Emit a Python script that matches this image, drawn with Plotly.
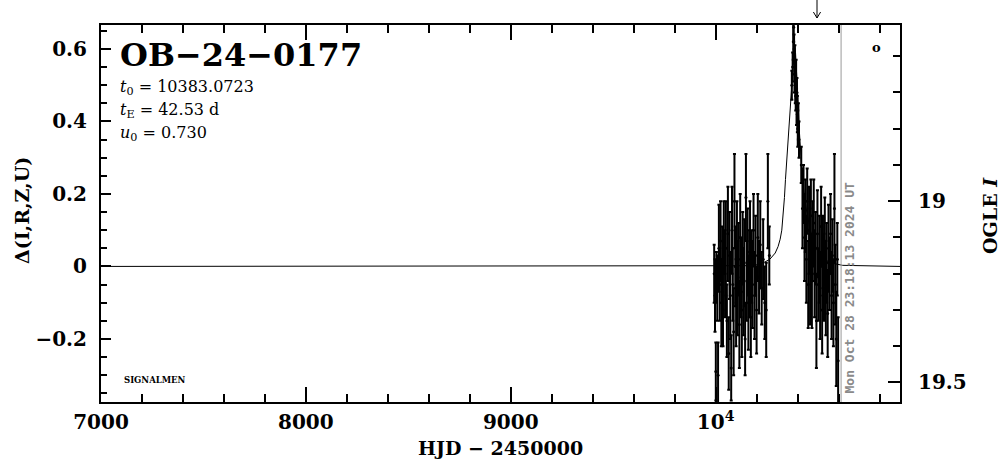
import plotly.graph_objects as go

# ---------------- data ----------------
x_range = [7000, 10900]
y_range = [-0.374, 0.666]
mag_range = [19.554, 18.514]   # OGLE I, inverted (bottom, top)

x_tickvals = [7000, 8000, 9000, 10000]
x_ticktext = ["7000", "8000", "9000", "10<sup>4</sup>"]

# model curve
model_t = [7000, 10150, 10200, 10240, 10265, 10291, 10305, 10315, 10323, 10330, 10336,
           10341, 10348, 10354, 10360, 10367, 10374, 10380, 10385, 10390, 10396, 10402,
           10408, 10415, 10423, 10432, 10445, 10462, 10480, 10500, 10525, 10560, 10620, 10900]
model_d = [0.0, 0.002, 0.005, 0.012, 0.02, 0.037, 0.055, 0.075, 0.10, 0.14, 0.19,
           0.24, 0.30, 0.35, 0.40, 0.47, 0.54, 0.59, 0.61, 0.59, 0.54, 0.46,
           0.38, 0.31, 0.25, 0.20, 0.15, 0.10, 0.065, 0.04, 0.022, 0.01, 0.003, 0.0]

# observations, season before the peak
pre_t = [9993, 9997, 10001, 10004, 10008, 10012, 10016, 10020, 10024, 10028, 10032, 10036,
         10040, 10046, 10050, 10055, 10060, 10064, 10068, 10072, 10076, 10080, 10084, 10088,
         10092, 10096, 10100, 10104, 10108, 10112, 10116, 10120, 10124, 10128, 10132, 10136,
         10140, 10144, 10148, 10152, 10156, 10160, 10164, 10168, 10172, 10176, 10180, 10185,
         10190, 10195, 10200, 10206, 10212, 10218, 10225, 10232, 10240, 10247, 10255, 10262]
pre_d = [-0.02, -0.08, -0.29, -0.03, -0.06, -0.30, 0.05, -0.05, 0.07, -0.10, 0.02, -0.12,
         0.08, -0.02, 0.05, -0.15, 0.09, -0.24, 0.03, -0.08, -0.28, 0.10, -0.05, -0.18,
         0.18, 0.00, -0.10, 0.06, -0.06, 0.02, -0.16, 0.08, -0.03, -0.12, 0.05, -0.07,
         0.01, -0.20, 0.19, -0.04, 0.04, -0.10, -0.02, 0.07, -0.14, 0.00, -0.05, 0.10,
         -0.08, 0.03, -0.12, 0.08, -0.03, 0.06, -0.06, 0.02, -0.10, -0.12, 0.18, 0.03]
pre_e = [0.08, 0.10, 0.08, 0.07, 0.09, 0.09, 0.12, 0.10, 0.11, 0.12, 0.09, 0.10,
         0.10, 0.12, 0.13, 0.10, 0.13, 0.10, 0.12, 0.12, 0.09, 0.12, 0.10, 0.12,
         0.13, 0.11, 0.12, 0.12, 0.13, 0.10, 0.12, 0.12, 0.11, 0.13, 0.10, 0.12,
         0.12, 0.10, 0.12, 0.11, 0.12, 0.13, 0.12, 0.11, 0.11, 0.10, 0.12, 0.10,
         0.12, 0.11, 0.12, 0.12, 0.10, 0.12, 0.10, 0.11, 0.10, 0.13, 0.13, 0.08]

# observations around the peak
peak_t = [10372, 10376, 10379, 10381, 10383, 10385, 10387, 10389, 10391, 10393, 10395,
          10397, 10399, 10401, 10404, 10407]
peak_d = [0.50, 0.55, 0.62, 0.66, 0.60, 0.53, 0.57, 0.50, 0.47, 0.52, 0.44,
          0.48, 0.42, 0.38, 0.40, 0.35]
peak_e = [0.04, 0.04, 0.05, 0.04, 0.04, 0.05, 0.04, 0.05, 0.04, 0.05, 0.05,
          0.04, 0.05, 0.05, 0.05, 0.05]

# observations after the peak
post_t = [10418, 10424, 10429, 10434, 10438, 10443, 10447, 10452, 10456, 10461, 10465, 10470,
          10474, 10479, 10483, 10488, 10492, 10497, 10501, 10506, 10510, 10515, 10520, 10524,
          10529, 10533, 10538, 10542, 10547, 10551, 10556, 10561, 10566, 10570, 10575, 10580,
          10584, 10589, 10594, 10598]
post_d = [0.28, 0.16, 0.20, 0.08, 0.14, 0.02, 0.18, -0.05, 0.10, 0.00, 0.14, -0.04,
          0.07, 0.12, -0.02, 0.05, -0.15, 0.09, -0.05, 0.02, -0.08, 0.11, -0.12, 0.04,
          -0.03, 0.07, -0.06, 0.01, -0.13, 0.05, -0.02, 0.09, -0.08, 0.03, -0.10, 0.16,
          -0.05, -0.20, 0.02, -0.26]
post_e = [0.05, 0.11, 0.08, 0.12, 0.10, 0.12, 0.09, 0.12, 0.12, 0.16, 0.10, 0.13,
          0.11, 0.12, 0.12, 0.10, 0.13, 0.12, 0.10, 0.12, 0.12, 0.11, 0.12, 0.10,
          0.12, 0.12, 0.13, 0.11, 0.12, 0.12, 0.10, 0.11, 0.12, 0.10, 0.12, 0.15,
          0.11, 0.13, 0.10, 0.12]

now_hjd = 10612.47
now_label = "Mon Oct 28 23:18:13 2024 UT"
event_name = "OB\u221224\u22120177"
params = ["<i>t</i><sub>0</sub> = 10383.0723",
          "<i>t</i><sub>E</sub> = 42.53 d",
          "<i>u</i><sub>0</sub> = 0.730"]

# ---------------- figure ----------------
SERIF = "DejaVu Serif"
fig = go.Figure()

fig.add_trace(go.Scatter(x=model_t, y=model_d, mode="lines",
                         line=dict(color="black", width=1), hoverinfo="skip",
                         showlegend=False))

obs_t = pre_t + peak_t + post_t
obs_d = pre_d + peak_d + post_d
obs_e = pre_e + peak_e + post_e
fig.add_trace(go.Scatter(x=obs_t, y=obs_d, mode="markers",
                         marker=dict(color="black", size=3),
                         error_y=dict(type="data", array=obs_e, color="black",
                                      thickness=2, width=1.5),
                         showlegend=False, hoverinfo="skip"))

# invisible trace to activate the right-hand magnitude axis
fig.add_trace(go.Scatter(x=[x_range[0]], y=[19.0], yaxis="y2", mode="markers",
                         marker=dict(opacity=0), showlegend=False, hoverinfo="skip"))

fig.add_vline(x=now_hjd, line=dict(color="#999999", width=1))

tickfont = dict(family=SERIF, size=20, color="black", weight="bold")

fig.update_layout(
    width=1004, height=459,
    margin=dict(l=101, r=104, t=25, b=57),
    paper_bgcolor="white", plot_bgcolor="white",
    showlegend=False,
    xaxis=dict(range=x_range, tickmode="array", tickvals=x_tickvals, ticktext=x_ticktext,
               ticks="inside", ticklen=15, tickwidth=2, tickcolor="black",
               minor=dict(tickmode="linear", tick0=0, dtick=200, ticks="inside",
                          ticklen=8, tickwidth=2, tickcolor="black"),
               showline=True, linecolor="black", linewidth=2, mirror="ticks",
               showgrid=False, zeroline=False, tickfont=tickfont,
               ticklabelstandoff=1),
    yaxis=dict(range=y_range, tickmode="linear", tick0=0, dtick=0.2,
               ticks="inside", ticklen=10, tickwidth=2, tickcolor="black",
               minor=dict(tickmode="linear", tick0=0, dtick=0.05, ticks="inside",
                          ticklen=6, tickwidth=2, tickcolor="black"),
               showline=True, linecolor="black", linewidth=2, mirror=False,
               showgrid=False, zeroline=False, tickfont=tickfont,
               ticklabelstandoff=8),
    yaxis2=dict(range=mag_range, overlaying="y", side="right",
                tickmode="linear", tick0=0, dtick=0.5,
                ticks="inside", ticklen=12, tickwidth=2, tickcolor="black",
                minor=dict(tickmode="linear", tick0=0, dtick=0.1, ticks="inside",
                           ticklen=7, tickwidth=2, tickcolor="black"),
                showline=True, linecolor="black", linewidth=2,
                showgrid=False, zeroline=False, tickfont=tickfont,
                ticklabelstandoff=12),
)

ann = []
ann.append(dict(text=event_name, xref="paper", yref="paper", x=0.0213, y=0.920,
                xanchor="left", yanchor="middle", showarrow=False,
                font=dict(family=SERIF, size=32, color="black", weight="bold")))
for i, p in enumerate(params):
    ann.append(dict(text=p, xref="paper", yref="paper", x=0.0213, y=0.8355 - 0.061 * i,
                    xanchor="left", yanchor="middle", showarrow=False,
                    font=dict(family=SERIF, size=16, color="black")))
ann.append(dict(text="SIGNALMEN", xref="paper", yref="paper", x=0.026, y=0.0584,
                xanchor="left", yanchor="middle", showarrow=False,
                font=dict(family=SERIF, size=8.5, color="black", weight="bold")))
ann.append(dict(text=now_label, xref="paper", yref="paper", x=0.938, y=0.3024,
                xanchor="center", yanchor="middle", showarrow=False, textangle=-90,
                font=dict(family="DejaVu Sans Mono", size=13, color="#8a8a8a",
                          weight="bold")))
ann.append(dict(text="o", xref="paper", yref="paper", x=0.971, y=0.9416,
                xanchor="center", yanchor="middle", showarrow=False,
                font=dict(family=SERIF, size=13, color="black", weight="bold")))
ann.append(dict(text="HJD \u2212 2450000", xref="paper", yref="paper", x=0.5006, y=-0.122,
                xanchor="center", yanchor="middle", showarrow=False,
                font=dict(family=SERIF, size=19, color="black", weight="bold")))
ann.append(dict(text="\u0394(I,R,Z,U)", xref="paper", yref="paper", x=-0.0989, y=0.509,
                xanchor="center", yanchor="middle", showarrow=False, textangle=-90,
                font=dict(family=SERIF, size=19, color="black", weight="bold")))
ann.append(dict(text="OGLE <i>I</i>", xref="paper", yref="paper", x=1.1126, y=0.496,
                xanchor="center", yanchor="middle", showarrow=False, textangle=-90,
                font=dict(family=SERIF, size=19, color="black", weight="bold")))
fig.update_layout(annotations=ann)

# arrow above the frame
ax_p = (817 - 101) / 799
fig.add_shape(type="line", xref="paper", yref="paper", x0=ax_p, x1=ax_p,
              y0=(402 - 0) / 377, y1=(402 - 18) / 377, line=dict(color="black", width=1))
fig.add_shape(type="path", xref="paper", yref="paper",
              path=f"M {ax_p - 0.0045},{(402 - 12) / 377} L {ax_p},{(402 - 18) / 377} "
                   f"L {ax_p + 0.0045},{(402 - 12) / 377}",
              line=dict(color="black", width=1))

fig.write_html("out.html",
               config={"displayModeBar": False},
               post_script="document.body.style.margin='0';"
                           "document.body.style.overflow='hidden';")
